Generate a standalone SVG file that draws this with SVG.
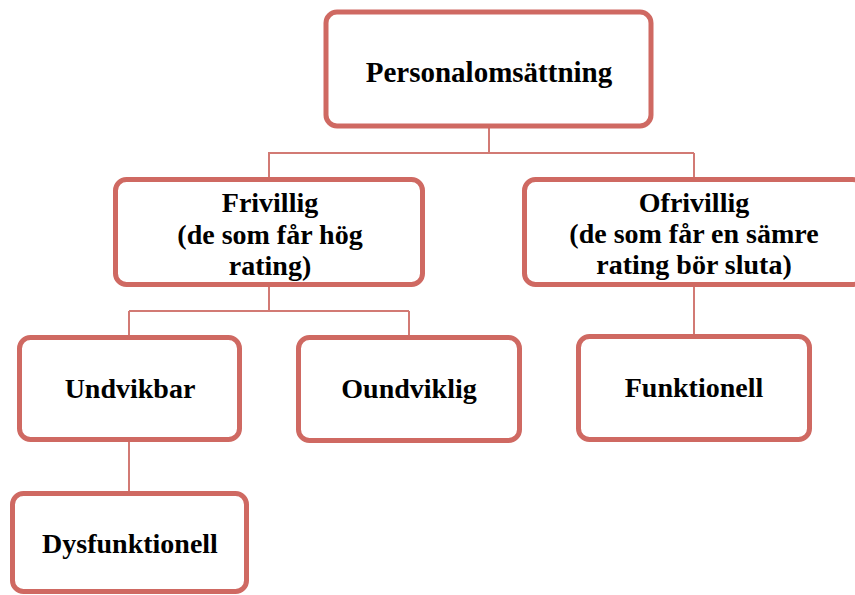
<svg xmlns="http://www.w3.org/2000/svg" width="855" height="595" viewBox="0 0 855 595">
<style>
.box{fill:#ffffff;stroke:#CF6962;stroke-width:5}
.lbl{font-family:"Liberation Serif","Times New Roman",serif;font-weight:bold;font-size:28px;fill:#000;text-anchor:middle}
.con{fill:none;stroke:#D27A74;stroke-width:2}
</style>
<rect width="855" height="595" fill="#ffffff"/>
<g id="connectors">
<path class="con" d="M489 127 V153 M268 153 H694 M269 153 V177 M694 153 V177"/>
<path class="con" d="M269 287 V311 M129 311 H409 M129 311 V335 M409 311 V335"/>
<path class="con" d="M694 287 V334"/>
<path class="con" d="M129 442 V491"/>
</g>
<g id="n-personal">
<rect class="box" x="326" y="12" width="325" height="114" rx="11"/>
<text class="lbl" x="489" y="82" style="font-size:29px">Personalomsättning</text>
</g>
<g id="n-frivillig">
<rect class="box" x="115.5" y="179.5" width="307" height="105" rx="11"/>
<text class="lbl" x="270" y="212">Frivillig</text>
<text class="lbl" x="270" y="244">(de som får hög</text>
<text class="lbl" x="270" y="275">rating)</text>
</g>
<g id="n-ofrivillig">
<rect class="box" x="524.5" y="179.5" width="339" height="105" rx="11"/>
<text class="lbl" x="694" y="212">Ofrivillig</text>
<text class="lbl" x="694" y="243">(de som får en sämre</text>
<text class="lbl" x="694" y="274">rating bör sluta)</text>
</g>
<g id="n-undvikbar">
<rect class="box" x="19.5" y="337.5" width="220" height="102" rx="11"/>
<text class="lbl" x="130" y="398">Undvikbar</text>
</g>
<g id="n-oundviklig">
<rect class="box" x="298.5" y="337.5" width="221" height="103" rx="11"/>
<text class="lbl" x="409" y="398">Oundviklig</text>
</g>
<g id="n-funktionell">
<rect class="box" x="578.5" y="336.5" width="231" height="103" rx="11"/>
<text class="lbl" x="694" y="397">Funktionell</text>
</g>
<g id="n-dysfunktionell">
<rect class="box" x="12.5" y="493.5" width="234" height="98" rx="11"/>
<text class="lbl" x="130" y="553">Dysfunktionell</text>
</g>
</svg>
